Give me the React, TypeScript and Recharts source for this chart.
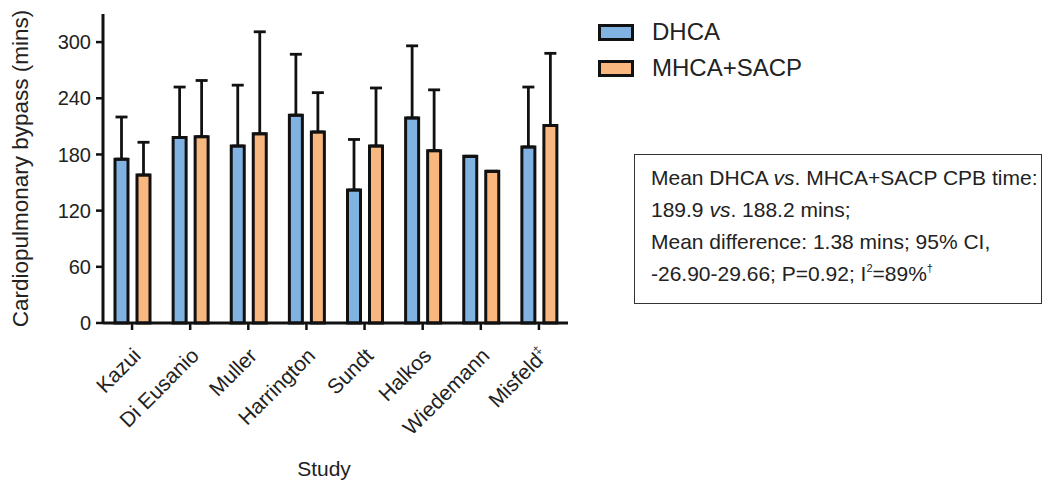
import React from "react";
import { BarChart, Bar, XAxis, YAxis, ErrorBar, Legend } from "recharts";

const studies = ["Kazui", "Di Eusanio", "Muller", "Harrington", "Sundt", "Halkos", "Wiedemann", "Misfeld"];
const studyMarks = ["", "", "", "", "", "", "", "‡"];
const dhcaMean = [175, 198, 189, 222, 142, 219, 178, 188];
const dhcaUpper = [220, 252, 254, 287, 196, 296, null, 252];
const sacpMean = [158, 199, 202, 204, 189, 184, 162, 211];
const sacpUpper = [193, 259, 311, 246, 251, 249, null, 288];
const yTicks = [0, 60, 120, 180, 240, 300];

const BLUE = "#80B3E2";
const ORANGE = "#F9B780";
const INK = "#222";
const FONT = "'Liberation Sans', Arial, Helvetica, sans-serif";

const data = studies.map((study, i) => ({
  study,
  mark: studyMarks[i],
  dhca: dhcaMean[i],
  sacp: sacpMean[i],
  dhcaErr: [0, dhcaUpper[i] == null ? 0 : (dhcaUpper[i] as number) - dhcaMean[i]],
  sacpErr: [0, sacpUpper[i] == null ? 0 : (sacpUpper[i] as number) - sacpMean[i]],
}));

function StudyTick(props: any) {
  const { x, y, payload, index } = props;
  const ax = x + 10;
  const ay = y + 27;
  const mark = studyMarks[index];
  return (
    <text
      x={ax}
      y={ay}
      transform={`rotate(-45 ${ax} ${ay})`}
      textAnchor="end"
      fontSize={21}
      fill={INK}
      fontFamily={FONT}
    >
      {payload.value}
      {mark ? (
        <tspan dy={-9} fontSize={12}>
          {mark}
        </tspan>
      ) : null}
    </text>
  );
}

function YTitle(props: any) {
  const { viewBox } = props;
  const cy = viewBox.y + viewBox.height / 2;
  return (
    <text
      x={28}
      y={cy}
      transform={`rotate(-90 28 ${cy})`}
      textAnchor="middle"
      fontSize={22.5}
      fill={INK}
      fontFamily={FONT}
    >
      Cardiopulmonary bypass (mins)
    </text>
  );
}

function XTitle() {
  return (
    <text x={324} y={476} textAnchor="middle" fontSize={21} fill={INK} fontFamily={FONT}>
      Study
    </text>
  );
}

function LegendBox(props: any) {
  const { payload } = props;
  return (
    <div style={{ fontFamily: FONT }}>
      {(payload || []).map((entry: any) => (
        <div key={entry.value} style={{ display: "flex", alignItems: "center", height: 36 }}>
          <div
            style={{
              width: 30,
              height: 11,
              background: entry.color,
              border: "3px solid #111",
              marginRight: 18,
            }}
          />
          <span style={{ fontSize: 24, color: INK }}>{entry.value}</span>
        </div>
      ))}
    </div>
  );
}

export default function App() {
  return (
    <div
      style={{
        position: "absolute",
        left: 0,
        top: 0,
        width: 1043,
        height: 481,
        background: "#fff",
        fontFamily: FONT,
      }}
    >
      <BarChart
        width={1043}
        height={481}
        data={data}
        margin={{ top: 14, right: 475, bottom: 0, left: 0 }}
        barSize={13}
        barGap={9}
      >
        <XAxis
          dataKey="study"
          height={158}
          interval={0}
          tickSize={7}
          tickMargin={0}
          axisLine={{ stroke: "#111", strokeWidth: 3 }}
          tickLine={{ stroke: "#111", strokeWidth: 2.5 }}
          tick={<StudyTick />}
          label={<XTitle />}
        />
        <YAxis
          width={103}
          domain={[0, 330]}
          ticks={yTicks}
          tickSize={7}
          tickMargin={5}
          axisLine={{ stroke: "#111", strokeWidth: 3 }}
          tickLine={{ stroke: "#111", strokeWidth: 2.5 }}
          tick={{ fontSize: 20, fill: INK, fontFamily: FONT }}
          label={<YTitle />}
        />
        <Legend
          layout="vertical"
          align="center"
          verticalAlign="middle"
          content={<LegendBox />}
          wrapperStyle={{ left: 598, top: 14, width: 300, height: 80 }}
        />
        <Bar dataKey="dhca" name="DHCA" fill={BLUE} stroke="#111" strokeWidth={3} isAnimationActive={false}>
          <ErrorBar dataKey="dhcaErr" width={6} stroke="#111" strokeWidth={2.8} direction="y" />
        </Bar>
        <Bar dataKey="sacp" name="MHCA+SACP" fill={ORANGE} stroke="#111" strokeWidth={3} isAnimationActive={false}>
          <ErrorBar dataKey="sacpErr" width={6} stroke="#111" strokeWidth={2.8} direction="y" />
        </Bar>
      </BarChart>
      <div
        style={{
          position: "absolute",
          left: 634,
          top: 154,
          width: 408,
          height: 150,
          boxSizing: "border-box",
          border: "1.5px solid #333",
          padding: "7px 0 0 16px",
          fontSize: 21,
          lineHeight: "32px",
          color: INK,
          whiteSpace: "nowrap",
          overflow: "hidden",
        }}
      >
        <div>
          Mean DHCA <i>vs</i>. MHCA+SACP CPB time:
        </div>
        <div>
          189.9 <i>vs</i>. 188.2 mins;
        </div>
        <div>Mean difference: 1.38 mins; 95% CI,</div>
        <div>
          -26.90-29.66; P=0.92; I<sup style={{ fontSize: 11, verticalAlign: "9px", lineHeight: 0 }}>2</sup>=89%
          <sup style={{ fontSize: 11, verticalAlign: "9px", lineHeight: 0 }}>†</sup>
        </div>
      </div>
    </div>
  );
}
